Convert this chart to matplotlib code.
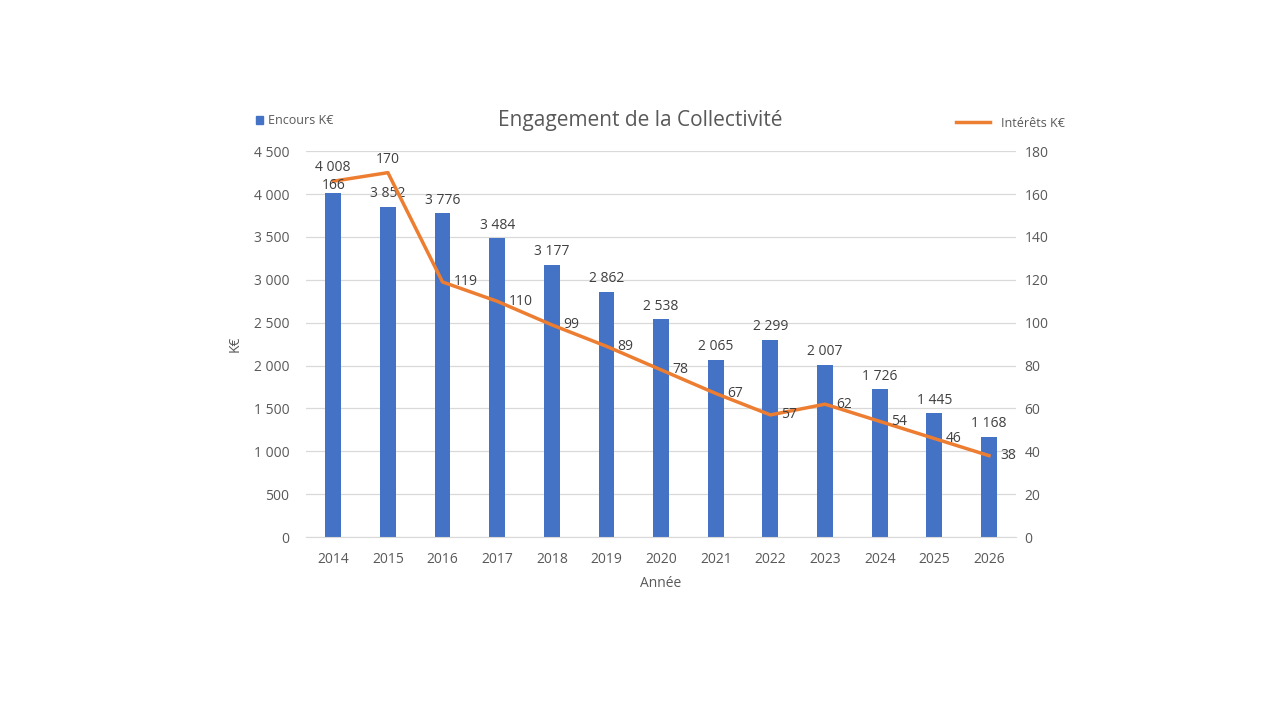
import matplotlib as mpl
mpl.use('Agg')
import matplotlib.pyplot as plt
from matplotlib.lines import Line2D
from matplotlib.patches import Patch
from matplotlib.ticker import FuncFormatter

plt.rcParams['font.family'] = ['Open Sans', 'DejaVu Sans']

annees = [2014, 2015, 2016, 2017, 2018, 2019, 2020, 2021, 2022, 2023, 2024, 2025, 2026]
encours = [4008, 3852, 3776, 3484, 3177, 2862, 2538, 2065, 2299, 2007, 1726, 1445, 1168]
interets = [166, 170, 119, 110, 99, 89, 78, 67, 57, 62, 54, 46, 38]

bleu = '#4472C4'
orange = '#ED7D31'
gris = '#595959'
grille = '#D9D9D9'


def fmt(v, pos=None):
    return '{:,.0f}'.format(v).replace(',', ' ')


fig = plt.figure(figsize=(12.8, 7.2), dpi=100)
ax = fig.add_axes([0.239, 0.254, 0.555, 0.536])
ax2 = ax.twinx()

x = list(range(len(annees)))
bars = ax.bar(x, encours, width=0.29, color=bleu, zorder=2)
ax2.plot(x, interets, color=orange, linewidth=2.5, zorder=3)

ax.set_xlim(-0.5, len(annees) - 0.5)
ax.set_ylim(0, 4500)
ax.set_yticks(range(0, 4501, 500))
ax.yaxis.set_major_formatter(FuncFormatter(fmt))
ax2.set_ylim(0, 180)
ax2.set_yticks(range(0, 181, 20))

ax.set_xticks(x)
ax.set_xticklabels([str(a) for a in annees])
ax.grid(axis='y', color=grille, linewidth=0.9, zorder=0)
ax.set_axisbelow(True)

for a in (ax, ax2):
    for s in a.spines.values():
        s.set_visible(False)
    a.tick_params(length=0, colors=gris, labelsize=10)
ax.spines['bottom'].set_visible(True)
ax.spines['bottom'].set_color(grille)
ax.tick_params(axis='x', pad=11)
ax.tick_params(axis='y', pad=12)
ax2.tick_params(axis='y', pad=6)

# étiquettes des barres
for i, v in enumerate(encours):
    dy = 13 if i == 0 else 4
    ax.annotate(fmt(v), (i, v), xytext=(0, dy), textcoords='offset points',
                ha='center', va='bottom', fontsize=10, color='#404040', zorder=4)

# étiquettes de la courbe
for i, v in enumerate(interets):
    if i == 0:
        off, ha, va = (0, -3), 'center', 'center'
    elif i == 1:
        off, ha, va = (0, 4), 'center', 'bottom'
    else:
        off, ha, va = (8, 0), 'left', 'center'
    ax2.annotate(str(v), (i, v), xytext=off, textcoords='offset points',
                 ha=ha, va=va, fontsize=10, color='#404040', zorder=5)

ax.set_ylabel('K€', color=gris, fontsize=10, labelpad=8)
ax.set_xlabel('Année', color=gris, fontsize=10, labelpad=6)

fig.text(0.5, 0.833, 'Engagement de la Collectivité', ha='center', va='center',
         fontsize=15, color=gris)

fig.legend(handles=[Patch(color=bleu, label='Encours K€')], loc='center left',
           bbox_to_anchor=(0.191, 0.832), frameon=False, fontsize=9,
           handlelength=0.6, handleheight=0.6, handletextpad=0.4,
           labelcolor=gris)
fig.legend(handles=[Line2D([], [], color=orange, linewidth=2.5, label='Intérêts K€')],
           loc='center left', bbox_to_anchor=(0.738, 0.829), frameon=False,
           fontsize=9, handlelength=2.7, handletextpad=0.9, labelcolor=gris)

fig.savefig('out.png', dpi=100, facecolor='white')
